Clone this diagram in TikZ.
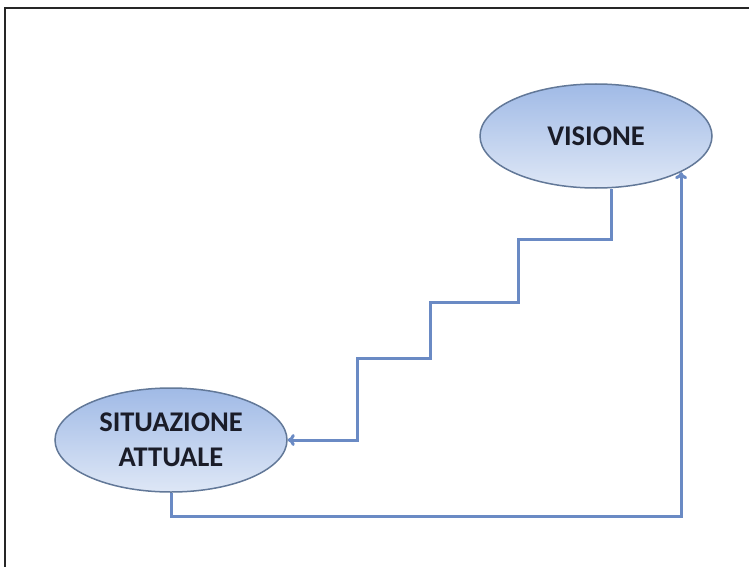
\documentclass[tikz,border=0pt]{standalone}
\usepackage{fontspec}
\setmainfont{Carlito}
\usetikzlibrary{shapes.geometric,arrows.meta}

\definecolor{linkblue}{RGB}{106,138,196}
\definecolor{rimblue}{RGB}{98,120,152}
\definecolor{filltop}{RGB}{160,186,230}
\definecolor{fillbot}{RGB}{222,231,246}
\definecolor{inkdark}{RGB}{26,28,40}

\tikzset{
  goalnode/.style={ellipse, draw=rimblue, line width=1.5pt, inner sep=0pt,
    minimum width=232pt, minimum height=104pt,
    top color=filltop, bottom color=fillbot,
    text=inkdark, font=\fontsize{28.5}{35}\selectfont\bfseries, align=center},
  link/.style={draw=linkblue, line width=3pt, -{To[length=7pt,width=12pt]}}
}

\begin{document}
\begin{tikzpicture}[x=1pt,y=-1pt]
          \useasboundingbox (0,0) rectangle (749,567);
          \fill[white] (0,0) rectangle (749,567);

          % frame, only top and left edges show
          \draw[line width=2.2pt, black!85] (5,567) -- (5,8) -- (749,8);

          \node[goalnode] (visione) at (596,136) {VISIONE};
          \node[goalnode] (situazione) at (171,440) {SITUAZIONE\\ATTUALE};

          % staircase down to the present
          \draw[link] ([xshift=15]visione.south) |- (518,239) |- (430,302)
            |- (357,358) |- (situazione.east);

          % return path below
          \draw[link] (situazione.south) -- ++(0,24) -| (visione.-23);
        \end{tikzpicture}
\end{document}
